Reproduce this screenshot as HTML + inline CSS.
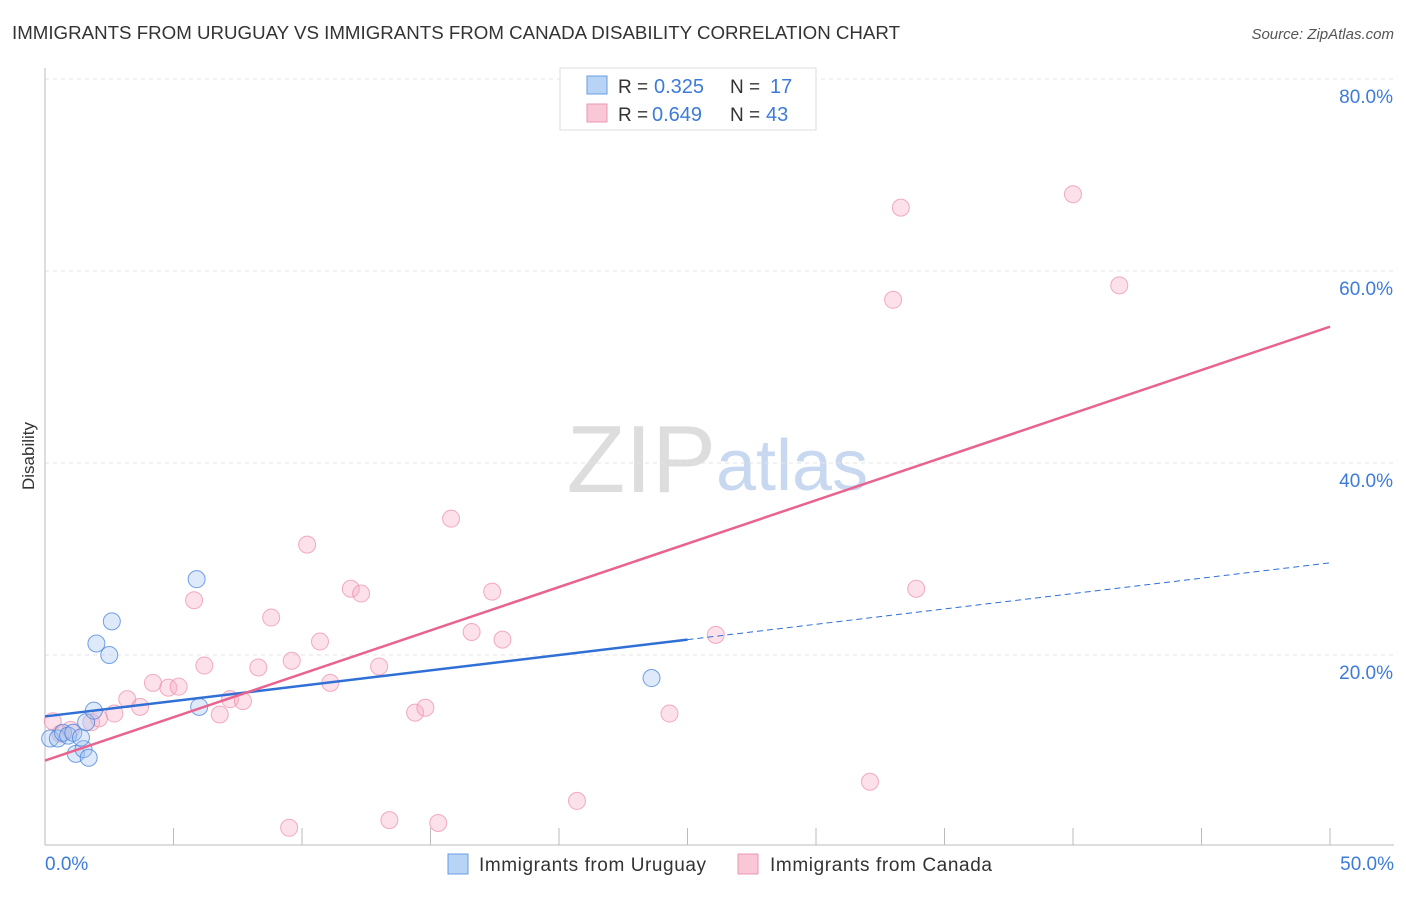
<!DOCTYPE html>
<html><head><meta charset="utf-8"><style>
body{margin:0;background:#fff;font-family:"Liberation Sans",sans-serif}
svg text{font-family:"Liberation Sans",sans-serif}
</style></head><body>
<svg id="c" width="1406" height="892">
<text x="12" y="39" font-size="18" fill="#333" textLength="888" lengthAdjust="spacingAndGlyphs">IMMIGRANTS FROM URUGUAY VS IMMIGRANTS FROM CANADA DISABILITY CORRELATION CHART</text>
<text x="1394" y="39" font-size="15" fill="#555" font-style="italic" text-anchor="end">Source: ZipAtlas.com</text>
<text x="34" y="456" font-size="17" fill="#333" transform="rotate(-90 34 456)" text-anchor="middle">Disability</text>
<text x="716" y="492" font-size="96" fill="#ddd" font-family="Liberation Serif" text-anchor="end">ZIP</text>
<text x="716" y="490" font-size="72" fill="#c8d8f0">atlas</text>
<g id="grid"></g><g id="marks"></g>
<g>
<rect x="560" y="68" width="256" height="62" fill="#fff" stroke="#ddd"/>
<rect x="587" y="76" width="20" height="18" fill="#b7d3f5" stroke="#6a9de0"/>
<rect x="587" y="104" width="20" height="18" fill="#f9c7d6" stroke="#ec97b3"/>
<text x="618" y="93" font-size="19" fill="#333">R =</text><text x="654" y="93" font-size="20" fill="#3d7bd9">0.325</text>
<text x="730" y="93" font-size="19" fill="#333">N =</text><text x="770" y="93" font-size="20" fill="#3d7bd9">17</text>
<text x="618" y="121" font-size="19" fill="#333">R =</text><text x="652" y="121" font-size="20" fill="#3d7bd9">0.649</text>
<text x="730" y="121" font-size="19" fill="#333">N =</text><text x="766" y="121" font-size="20" fill="#3d7bd9">43</text>
</g>
<g>
<rect x="448" y="854" width="20" height="20" fill="#b7d3f5" stroke="#6a9de0"/>
<text x="479" y="871" font-size="19" fill="#333" textLength="227">Immigrants from Uruguay</text>
<rect x="738" y="854" width="20" height="20" fill="#f9c7d6" stroke="#ec97b3"/>
<text x="770" y="871" font-size="19" fill="#333" textLength="222">Immigrants from Canada</text>
</g>
</svg>
<script>
const yTicks=[20,40,60,80];
const xTickLabels=["0.0%","50.0%"];
const uruX=[0.2,0.5,0.7,0.9,1.2,1.5,1.1,1.4,1.6,1.7,1.9,2.0,2.5,2.6,5.9,6.0,23.6];
const uruY=[11.3,11.3,11.9,11.6,9.7,10.2,11.9,11.4,13.0,9.3,14.2,21.2,20.0,23.5,27.9,14.6,17.6];
const canX=[0.3,0.6,1.0,1.8,2.1,2.7,3.2,3.7,4.2,4.8,5.2,5.8,6.2,6.8,7.2,7.7,8.3,8.8,9.5,9.6,10.2,10.7,11.1,11.9,12.3,13.0,13.4,14.4,14.8,15.3,15.8,16.6,17.4,17.8,20.7,24.3,26.1,32.1,33.0,33.3,33.9,40.0,41.8];
const canY=[13.1,11.8,12.2,13.0,13.4,13.9,15.4,14.6,17.1,16.6,16.7,25.7,18.9,13.8,15.4,15.2,18.7,23.9,2.0,19.4,31.5,21.4,17.1,26.9,26.4,18.8,2.8,14.0,14.5,2.5,34.2,22.4,26.6,21.6,4.8,13.9,22.1,6.8,57.0,66.6,26.9,68.0,58.5];
const uruLine=[13.6,29.6], canLine=[9.0,54.2];
const X=v=>45+v/50*1285, Y=v=>847-v/20*192;
const NS="http://www.w3.org/2000/svg";
const g=document.getElementById('grid'), m=document.getElementById('marks');
function el(t,a,p){const e=document.createElementNS(NS,t);for(const k in a)e.setAttribute(k,a[k]);p.appendChild(e);return e;}
yTicks.forEach(t=>{
 const l=el('line',{x1:45,x2:1394,y1:Y(t),y2:Y(t),stroke:'#e3e3e3','stroke-dasharray':'4,4'},g);
 
 
 const tx=el('text',{x:1393,y:Y(t)+24,'font-size':19,fill:'#3d7bd9','text-anchor':'end'},g);
 tx.textContent=t.toFixed(1)+'%';
 
 
});
el('line',{x1:45,x2:45,y1:68,y2:845,stroke:'#bbb'},g);
el('line',{x1:45,x2:1394,y1:845,y2:845,stroke:'#bbb'},g);
for(let i=0;i<=10;i++){const t=el('line',{x1:X(i*5),x2:X(i*5),y1:828,y2:845,stroke:'#bbb'},g);
 
 }
[[0,'start',45],[50,'end',1394]].forEach((d,i)=>{const t=el('text',{x:d[2],y:870,'font-size':19,fill:'#3d7bd9','text-anchor':d[1]},g);t.textContent=xTickLabels[i];
 
 });
canX.forEach((x,i)=>{const c=el('circle',{cx:X(x),cy:Y(canY[i]),r:8.5,fill:'rgba(246,170,195,0.35)',stroke:'rgba(236,140,170,0.7)'},m);
 
 });
uruX.forEach((x,i)=>{const c=el('circle',{cx:X(x),cy:Y(uruY[i]),r:8.5,fill:'rgba(160,195,240,0.35)',stroke:'rgba(70,130,220,0.75)'},m);
 
 });
const um=uruLine[0]+(uruLine[1]-uruLine[0])*0.5;
let l=el('line',{x1:X(0),y1:Y(uruLine[0]),x2:X(25),y2:Y(um),stroke:'#2f6fd6','stroke-width':2.5},m);


l=el('line',{x1:X(25),y1:Y(um),x2:X(50),y2:Y(uruLine[1]),stroke:'#2f6fd6','stroke-width':1,'stroke-dasharray':'6,4'},m);


l=el('line',{x1:X(0),y1:Y(canLine[0]),x2:X(50),y2:Y(canLine[1]),stroke:'#e8648f','stroke-width':2.5},m);


</script>
</body></html>
